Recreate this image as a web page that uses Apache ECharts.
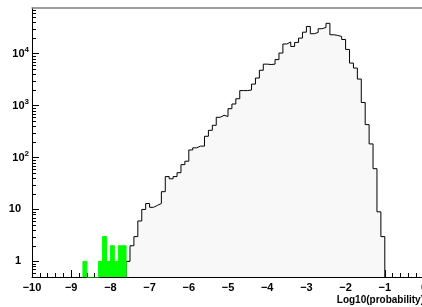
<!DOCTYPE html>
<html>
<head>
<meta charset="utf-8">
<script src="https://cdn.jsdelivr.net/npm/echarts@6/dist/echarts.min.js"></script>
<style>
  html, body { margin: 0; padding: 0; background: #fff; }
  #chart { width: 422px; height: 307px; }
</style>
</head>
<body>
<div id="chart"></div>
<script>
// histogram of log10(probability), bins of 0.1
const binWidth = 0.1;
const xMin = -10, xMax = 0;
const yMin = 0.5, yMax = 76000;

// main (grey) histogram, first bin starts at -7.6
const greyStart = -7.6;
const greyCounts = [
  1, 2, 3, 6, 10, 13, 11, 12, 13, 22,
  43, 39, 43, 51, 73, 85, 140, 154, 166, 166,
  257, 335, 418, 596, 650, 620, 873, 1075, 1358, 1950,
  1950, 2000, 2600, 3400, 4800, 6300, 6200, 6300, 7700, 10300,
  15400, 16800, 13800, 16500, 20000, 26000, 33500, 24300, 25700, 30300,
  32100, 38500, 23200, 22500, 21500, 18800, 12100, 6600, 5300, 3250,
  1150, 431, 183, 61, 9, 3
];

// green histogram, first bin starts at -8.7
const greenStart = -8.7;
const greenCounts = [1, 0, 0, 0, 1, 3, 1, 2, 1, 2, 2];

const yLabels = { 1: '1', 10: '10', 100: '10^2', 1000: '10^3', 10000: '10^4' };

// empty bins go below the axis and get clipped
const floor = 0.01;

function stepPoints(start, counts) {
  const pts = [[start, floor]];
  counts.forEach((c, i) => {
    const x = Math.round((start + i * binWidth) * 10) / 10;
    pts.push([x, c > 0 ? c : floor]);
  });
  const end = Math.round((start + counts.length * binWidth) * 10) / 10;
  pts.push([end, floor]);
  return pts;
}

const chart = echarts.init(document.getElementById('chart'));
const font = 'Liberation Sans, Arial, sans-serif';

const option = {
  animation: false,
  backgroundColor: '#fff',
  grid: { left: 32, right: -2, top: 8, bottom: 30, outerBoundsMode: 'none' },
  xAxis: [
    {
      type: 'value',
      min: xMin, max: xMax, interval: 1,
      axisLine: { onZero: false, lineStyle: { color: '#000', width: 1 } },
      axisTick: { inside: true, length: 7, lineStyle: { color: '#000' } },
      minorTick: { show: true, splitNumber: 5, length: 4, lineStyle: { color: '#000' } },
      splitLine: { show: false },
      axisLabel: {
        margin: 5, color: '#000', fontSize: 11, fontWeight: 'bold', fontFamily: font,
        formatter: v => v < 0 ? '\u2212' + Math.abs(v) : String(v)
      },
      name: 'Log10(probability)',
      nameLocation: 'end',
      nameGap: 0,
      nameTextStyle: {
        color: '#000', fontSize: 10, fontWeight: 'bold', fontFamily: font,
        align: 'right', verticalAlign: 'top', padding: [18, 0, 0, 0]
      }
    },
    {
      type: 'value', position: 'top',
      min: xMin, max: xMax,
      axisLine: { onZero: false, lineStyle: { color: '#808080', width: 1.5 } },
      axisTick: { show: false }, axisLabel: { show: false }, splitLine: { show: false }
    }
  ],
  yAxis: {
    type: 'log',
    min: yMin, max: yMax,
    axisLine: { show: true, onZero: false, lineStyle: { color: '#000', width: 1 } },
    axisTick: { inside: true, length: 7, lineStyle: { color: '#000' } },
    splitLine: { show: false },
    axisLabel: {
      margin: 3, color: '#000', fontFamily: font,
      showMinLabel: false, showMaxLabel: false,
      formatter: v => {
        const t = yLabels[Math.round(v)];
        if (!t || Math.abs(v - Math.round(v)) > 1e-6) return '';
        if (t.indexOf('^') >= 0) {
          const [b, e] = t.split('^');
          return '{b|' + b + '}{s|' + e + '}';
        }
        return '{b|' + t + '}{sp| }';
      },
      rich: {
        b: { fontSize: 11, fontWeight: 'bold', fontFamily: font, color: '#000' },
        s: { fontSize: 8, fontWeight: 'bold', fontFamily: font, color: '#000', padding: [0, 0, 8, 0] },
        sp: { width: 8, fontSize: 8 }
      }
    }
  },
  series: [
    {
      type: 'line',
      step: 'end',
      symbol: 'none',
      data: stepPoints(greyStart, greyCounts),
      lineStyle: { color: '#000', width: 1 },
      areaStyle: { color: '#f8f8f8', opacity: 1 },
      z: 2
    },
    {
      type: 'line',
      step: 'end',
      symbol: 'none',
      data: stepPoints(greenStart, greenCounts),
      lineStyle: { color: '#00ff00', width: 1 },
      areaStyle: { color: '#00ff00', opacity: 1 },
      z: 3
    }
  ]
};

chart.setOption(option);

// log-axis minor ticks at 2..9 per decade
const x0 = chart.convertToPixel({ xAxisIndex: 0 }, xMin);
const minor = [];
for (let k = -1; k <= 4; k++) {
  for (let m = 2; m <= 9; m++) {
    const v = m * Math.pow(10, k);
    if (v <= yMin || v >= yMax) continue;
    const y = Math.round(chart.convertToPixel({ yAxisIndex: 0 }, v)) + 0.5;
    minor.push({
      type: 'line',
      shape: { x1: x0, y1: y, x2: x0 + 4, y2: y },
      style: { stroke: '#000', lineWidth: 1 },
      z: 10
    });
  }
}
chart.setOption({ graphic: minor });
</script>
</body>
</html>
